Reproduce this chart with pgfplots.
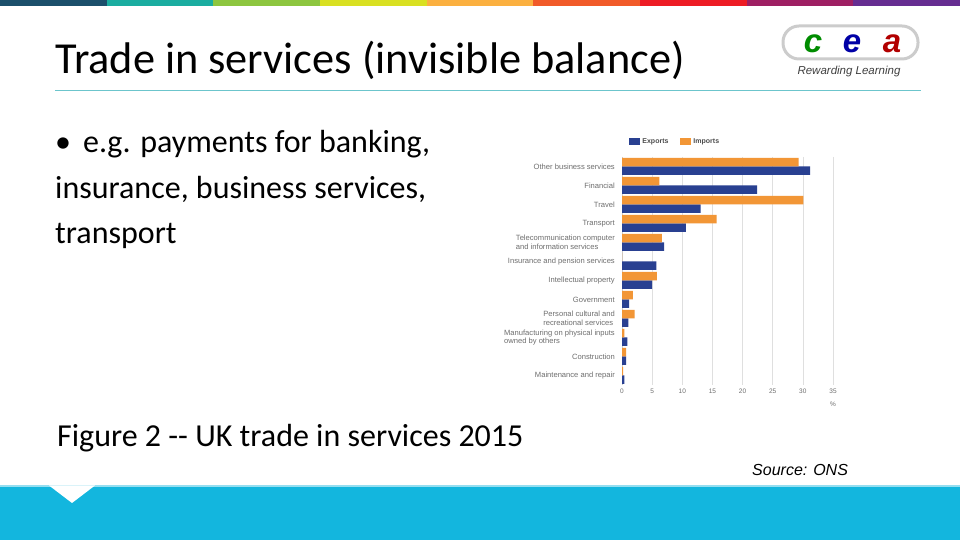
\documentclass[border=0pt]{standalone}
\usepackage{pgfplots}
\pgfplotsset{compat=1.18}
\usepackage{fontspec}
\setmainfont{Carlito}
\newfontfamily\arial{Liberation Sans}
\definecolor{expc}{HTML}{294091}
\definecolor{impc}{HTML}{F29636}
\definecolor{band}{HTML}{13B6DE}
\definecolor{lbl}{HTML}{6E6E6E}
\definecolor{s1}{HTML}{1B4F6B}
\definecolor{s2}{HTML}{1AADA0}
\definecolor{s3}{HTML}{8DC63F}
\definecolor{s4}{HTML}{D9E021}
\definecolor{s5}{HTML}{FBB040}
\definecolor{s6}{HTML}{F15A29}
\definecolor{s7}{HTML}{ED1C24}
\definecolor{s8}{HTML}{9E1F63}
\definecolor{s9}{HTML}{662D91}
\definecolor{rule}{HTML}{6CC5CC}
\begin{document}
\begin{tikzpicture}[x=1pt,y=1pt]
\path[use as bounding box] (0,0) rectangle (960,540);
\fill[white] (0,0) rectangle (960,540);
% top strip
\foreach \c [count=\i from 0] in {s1,s2,s3,s4,s5,s6,s7,s8,s9}{
  \fill[\c] (\i*106.667,534) rectangle ({(\i+1)*106.667},540);
}
% title
\node[anchor=base west, inner sep=0, font=\fontsize{44.3}{50}\selectfont, text=black] at (55,466) {Trade in services (invisible balance)};
\draw[rule, line width=1pt] (55,449) -- (921,449);
% logo
\draw[gray!40, line width=3pt, rounded corners=16pt] (783,481) rectangle (918,514);
\begin{scope}[every node/.style={anchor=base, inner sep=0, font=\arial\bfseries\itshape\fontsize{33}{36}\selectfont}]
\node[text=green!55!black] at (813,487) {c};
\node[text=blue!65!black] at (852,487) {e};
\node[text=red!70!black] at (892,487) {a};
\end{scope}
\node[anchor=base, inner sep=0, font=\arial\itshape\fontsize{11.5}{12}\selectfont, text=black!75] at (849,465) {Rewarding Learning};
% bullets
\begin{scope}[every node/.style={anchor=base west, inner sep=0, font=\fontsize{32}{38}\selectfont, text=black}]
\node at (55,387) {\textbullet\hspace{12pt}e.g. payments for banking,};
\node at (55,341) {insurance, business services,};
\node at (55,296) {transport};
\node at (57,93) {Figure 2 -{}- UK trade in services 2015};
\end{scope}
\node[anchor=base west, inner sep=0, font=\arial\itshape\fontsize{16}{18}\selectfont] at (752,64) {Source: ONS};
% bottom band
\fill[band] (0,0) rectangle (960,53);
\fill[band!45] (0,53) rectangle (960,54.5);
\fill[white] (49,54.5) -- (95,54.5) -- (72,37) -- cycle;
% chart
\begin{axis}[
  at={(622pt,155pt)}, anchor=south west, scale only axis,
  width=211pt, height=228pt,
  xbar, bar width=8.5pt,
  xmin=0, xmax=35, ymin=-0.5, ymax=11.5,
  y dir=reverse,
  ytick={0,...,11},
  yticklabels={Other business services,Financial,Travel,Transport,{Telecommunication computer\\and information services},Insurance and pension services,Intellectual property,Government,{Personal cultural and\\recreational services},{Manufacturing on physical inputs\\owned by others},Construction,Maintenance and repair},
  yticklabel style={align=left, font=\arial\fontsize{7.6}{8.6}\selectfont, text=lbl, inner sep=1pt, xshift=-6pt},
  xtick={0,5,...,35},
  xticklabel style={font=\arial\fontsize{6.5}{7}\selectfont, text=lbl},
  /pgf/number format/assume math mode=true,
  major tick length=0pt,
  axis lines*=left,
  x axis line style={draw=none},
  y axis line style={draw=gray!40},
  xmajorgrids, grid style={gray!25, line width=0.6pt},
  clip=false,
  legend style={at={(0.02,1.066)}, anchor=west, draw=none, fill=none, legend columns=2,
    font=\arial\bfseries\fontsize{7}{8}\selectfont, text=black!70,
    /tikz/every even column/.append style={column sep=10pt}},
  legend image code/.code={\fill[#1] (0pt,-3.5pt) rectangle (11pt,3.5pt);},
]
\addplot[fill=expc, draw=none, bar shift=-4.25pt] coordinates {
 (31.2,0) (22.4,1) (13.05,2) (10.6,3) (7.0,4) (5.7,5) (5.0,6) (1.2,7) (1.05,8) (0.9,9) (0.7,10) (0.4,11)};
\addplot[fill=impc, draw=none, bar shift=4.25pt] coordinates {
 (29.3,0) (6.2,1) (30.1,2) (15.7,3) (6.6,4) (0,5) (5.8,6) (1.8,7) (2.1,8) (0.4,9) (0.7,10) (0.2,11)};
\legend{Exports,Imports}
\node[anchor=north, font=\arial\fontsize{6.5}{7}\selectfont, text=lbl, inner sep=0] at (axis cs:35,11.5) [yshift=-17pt] {\%};
\end{axis}
\end{tikzpicture}
\end{document}
